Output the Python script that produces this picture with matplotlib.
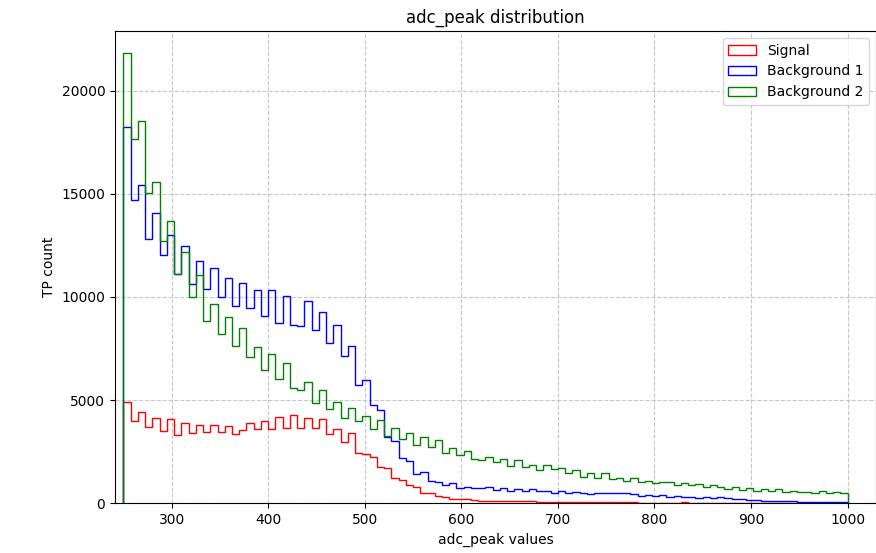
import matplotlib
matplotlib.use("Agg")
import matplotlib.pyplot as plt
import numpy as np

# 100 bins of width 7.5 between 250 and 1000
bin_lo, bin_hi, n_bins = 250, 1000, 100

signal = [
    4890, 4010, 4430, 3690, 4140, 3510, 4090, 3330, 3880, 3400,
    3790, 3460, 3790, 3460, 3750, 3350, 3570, 3900, 3610, 3980,
    3610, 4190, 3660, 4260, 3660, 4150, 3660, 4070, 3370, 3580,
    2980, 3420, 2450, 2370, 2260, 1770, 1690, 1210, 1130, 890,
    810, 520, 480, 370, 320, 210, 190, 190, 160, 130,
    130, 120, 110, 100, 120, 90, 90, 80, 80, 75,
    70, 60, 55, 60, 50, 45, 50, 45, 45, 40,
    40, 35, 35, 30, 30, 30, 25, 40, 30, 25,
    25, 20, 20, 20, 18, 15, 15, 15, 12, 12,
    10, 10, 10, 8, 8, 8, 6, 6, 5, 5,
]

background_1 = [
    18250, 14720, 15420, 12830, 14080, 12050, 12980, 11120, 12460, 10630,
    11750, 10370, 11390, 10020, 10900, 9550, 10680, 9470, 10350, 9070,
    10320, 8740, 10030, 8630, 8610, 9790, 8390, 9260, 7780, 8660,
    7130, 7610, 5740, 5980, 4760, 4520, 3230, 3030, 2180, 2070,
    1420, 1500, 1100, 1050, 890, 970, 760, 810, 730, 730,
    810, 650, 730, 610, 680, 600, 680, 610, 600, 520,
    600, 480, 560, 480, 450, 480, 520, 480, 480, 480,
    450, 360, 400, 360, 400, 320, 360, 290, 320, 240,
    290, 240, 290, 240, 190, 190, 160, 160, 130, 110,
    110, 110, 100, 80, 65, 80, 65, 65, 80, 50,
]

background_2 = [
    21800, 17640, 18540, 15020, 15570, 12720, 13670, 11100, 12180, 10000,
    11050, 8850, 9660, 8200, 9030, 7640, 8520, 7100, 7570, 6450,
    7240, 6000, 6780, 5600, 5470, 5890, 4870, 5480, 4550, 4900,
    4110, 4600, 3970, 4240, 3600, 4030, 3260, 3630, 3100, 3390,
    2820, 3230, 2740, 3060, 2450, 2660, 2340, 2550, 2130, 2110,
    2260, 2020, 2150, 1810, 2100, 1740, 1860, 1610, 1860, 1650,
    1690, 1480, 1610, 1290, 1450, 1240, 1450, 1180, 1240, 1080,
    1210, 1050, 1080, 970, 1050, 1050, 890, 970, 890, 935,
    775, 890, 790, 695, 775, 645, 725, 615, 680, 600,
    695, 565, 600, 530, 565, 485, 615, 485, 565, 485,
]

labels = ["Signal", "Background 1", "Background 2"]
colors = ["red", "blue", "green"]

edges = np.linspace(bin_lo, bin_hi, n_bins + 1)
centers = 0.5 * (edges[:-1] + edges[1:])

fig = plt.figure(figsize=(8.76, 5.53), dpi=100)
ax = fig.add_axes([115 / 876, 49.7 / 553, 761 / 876, 472.3 / 553])

for counts, label, color in zip([signal, background_1, background_2], labels, colors):
    ax.hist(centers, bins=edges, weights=counts, histtype="step",
            color=color, label=label)

ax.set_xlim(241.3, 1029.5)
ax.set_title("adc_peak distribution", fontsize=12)
ax.set_xlabel("adc_peak values")
ax.set_ylabel("TP count")
ax.grid(True, linestyle="--", alpha=0.7)
ax.legend(loc="upper right")

fig.savefig("out.png", dpi=100)
